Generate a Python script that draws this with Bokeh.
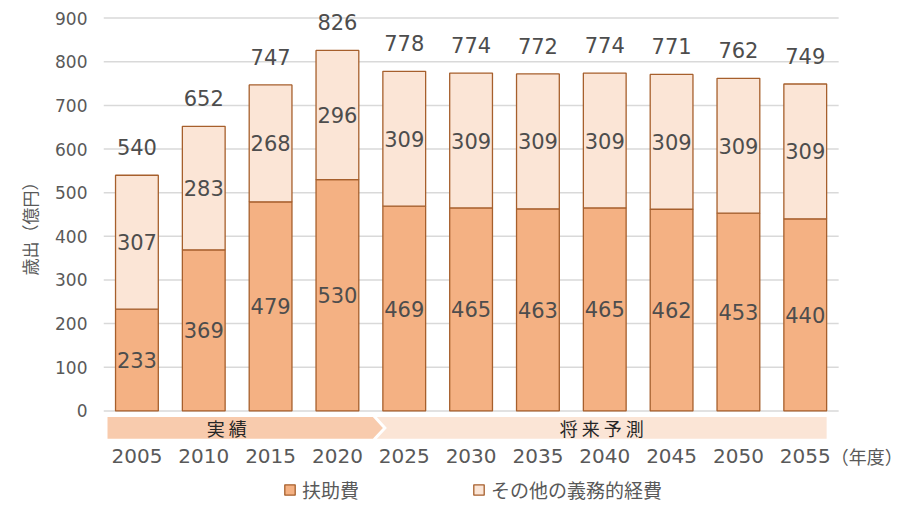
import math
from bokeh.plotting import figure
from bokeh.models import (ColumnDataSource, Range1d, FixedTicker, Legend, LegendItem, Title)
from bokeh.core.properties import value
from bokeh.embed import file_html
from bokeh.resources import INLINE

# ---- data ----
years = ["2005", "2010", "2015", "2020", "2025", "2030", "2035", "2040", "2045", "2050", "2055"]
fujohi = [233, 369, 479, 530, 469, 465, 463, 465, 462, 453, 440]
sonota = [307, 283, 268, 296, 309, 309, 309, 309, 309, 309, 309]
series_names = ["扶助費", "その他の義務的経費"]
y_ticks = [0, 100, 200, 300, 400, 500, 600, 700, 800, 900]
phase_labels = ["実 績", "将 来 予 測"]
phase_first = ["2005", "2025"]
phase_last = ["2020", "2055"]
y_title = "歳出（億円）"
x_unit = "（年度）"

# ---- styles ----
C_FUJO = "#F4B183"
C_SONOTA = "#FBE5D6"
C_EDGE = "#A65F2C"
C_BAND1 = "#F8CBAD"
C_BAND2 = "#FBE5D6"
TXT = "#595959"
VAL = "#4D4D4D"
NUM_FONT = "DejaVu Sans"
JP_FONT = "Noto Sans CJK JP"
BAR_W = 0.64

n = len(years)
xs = [i + 0.5 for i in range(n)]
totals = [a + b for a, b in zip(fujohi, sonota)]
unit_x = n + 0.42
label_y = -103          # row of year labels (data units below zero)

src = ColumnDataSource(dict(
    x=xs, fujohi=fujohi, sonota=sonota, total=totals,
    mid1=[a / 2 for a in fujohi],
    mid2=[a + b / 2 for a, b in zip(fujohi, sonota)],
    l1=[str(v) for v in fujohi], l2=[str(v) for v in sonota], lt=[str(v) for v in totals],
    yr=years, ly=[label_y] * n,
))

p = figure(width=905, height=506, frame_width=802, frame_height=498,
           output_backend="svg", toolbar_location=None,
           x_range=Range1d(0, 12.0), y_range=Range1d(-219, 922),
           min_border_left=103, min_border_right=0, min_border_top=8, min_border_bottom=0)
p.outline_line_color = None
p.background_fill_color = "white"

# horizontal gridlines over the category area only
p.segment(x0=[0] * len(y_ticks), x1=[n] * len(y_ticks), y0=y_ticks, y1=y_ticks,
          line_color="#D9D9D9", line_width=1.5, level="underlay")

r = p.vbar_stack(["fujohi", "sonota"], x="x", width=BAR_W, source=src,
                 fill_color=[C_FUJO, C_SONOTA], line_color=C_EDGE, line_width=1.3)

# value labels
p.text(x="x", y="mid1", text="l1", source=src, text_align="center", text_baseline="middle",
       text_font=value(NUM_FONT), text_font_size="21px", text_color=VAL)
p.text(x="x", y="mid2", text="l2", source=src, text_align="center", text_baseline="middle",
       text_font=value(NUM_FONT), text_font_size="21px", text_color=VAL)
p.text(x="x", y="total", text="lt", source=src, text_align="center", text_baseline="middle",
       y_offset=-28, text_font=value(NUM_FONT), text_font_size="21px", text_color=VAL)

# phase bands below the axis
band_top, band_bot = -14, -64
band_mid = (band_top + band_bot) / 2
i0 = years.index(phase_first[0])
i1 = years.index(phase_last[0])
j1 = years.index(phase_last[1])
a_start = i0 + 0.06
a_end = i1 + 1 + 0.03
a_tip = a_end + 0.15
f_start = a_end + 0.06
f_tip = f_start + 0.15
f_end = j1 + 0.5 + BAR_W / 2
p.patches(xs=[[a_start, a_end, a_tip, a_end, a_start],
              [f_start, f_end, f_end, f_start, f_tip]],
          ys=[[band_top, band_top, band_mid, band_bot, band_bot],
              [band_top, band_top, band_bot, band_bot, band_mid]],
          fill_color=[C_BAND1, C_BAND2], line_color=None)
p.text(x=[(a_start + a_end) / 2 - 0.2, (f_start + f_end) / 2], y=[band_mid, band_mid],
       text=phase_labels, text_align="center", text_baseline="middle",
       text_font=value(JP_FONT), text_font_size="18px", text_color="#262626")

# category labels and unit
p.text(x="x", y="ly", text="yr", source=src, text_align="center", text_baseline="middle",
       text_font=value(NUM_FONT), text_font_size="20px", text_color=TXT)
p.text(x=[unit_x], y=[label_y], text=[x_unit], text_align="center", text_baseline="middle",
       text_font=value(JP_FONT), text_font_size="18px", text_color=TXT)

# y axis
p.yaxis.ticker = FixedTicker(ticks=y_ticks)
p.yaxis.axis_line_color = None
p.yaxis.major_tick_line_color = None
p.yaxis.minor_tick_line_color = None
p.yaxis.major_tick_out = 0
p.yaxis.major_tick_in = 0
p.yaxis.minor_tick_out = 0
p.yaxis.major_label_standoff = 16
p.yaxis.major_label_text_font = NUM_FONT
p.yaxis.major_label_text_font_size = "17px"
p.yaxis.major_label_text_color = TXT
p.add_layout(Title(text=y_title, align="left", offset=231, standoff=21,
                   text_font=JP_FONT, text_font_size="17px", text_font_style="normal",
                   text_color=TXT), "left")

p.xaxis.visible = False
p.xgrid.grid_line_color = None
p.ygrid.grid_line_color = None

legend = Legend(items=[LegendItem(label=series_names[0], renderers=[r[0]]),
                       LegendItem(label=series_names[1], renderers=[r[1]])],
                orientation="horizontal", location=(180, 3),
                label_text_font=JP_FONT, label_text_font_size="19px", label_text_color=TXT,
                label_text_line_height=1.0,
                glyph_width=13, glyph_height=13, spacing=113, padding=0, margin=0,
                border_line_color=None, background_fill_alpha=0, label_standoff=6)
p.add_layout(legend, "center")

open("out.html", "w").write(file_html(p, INLINE))
